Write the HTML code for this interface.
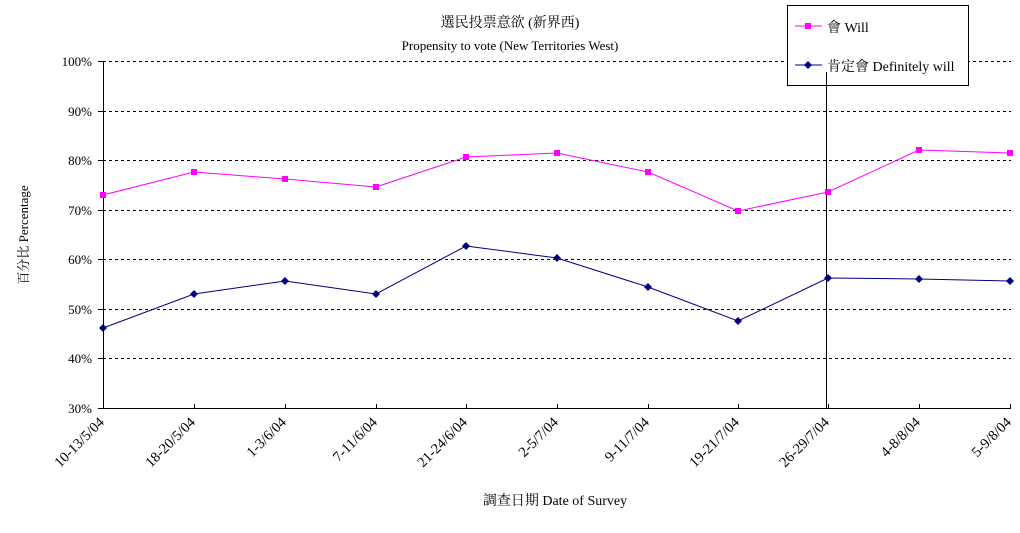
<!DOCTYPE html>
<html><head><meta charset="utf-8"><style>body{margin:0;background:#fff}svg{display:block}</style></head><body>
<svg width="1020" height="533" xmlns="http://www.w3.org/2000/svg" font-family="Liberation Serif, Noto Serif CJK SC, serif" font-size="13">
<g stroke="#000" stroke-dasharray="3,3" stroke-width="1">
<line x1="103" y1="61.5" x2="1011" y2="61.5"/><line x1="103" y1="111.5" x2="1011" y2="111.5"/><line x1="103" y1="160.5" x2="1011" y2="160.5"/><line x1="103" y1="210.5" x2="1011" y2="210.5"/><line x1="103" y1="259.5" x2="1011" y2="259.5"/><line x1="103" y1="309.5" x2="1011" y2="309.5"/><line x1="103" y1="358.5" x2="1011" y2="358.5"/>
</g>
<g stroke="#000" stroke-width="1">
<line x1="103.5" y1="61" x2="103.5" y2="408"/><line x1="103" y1="408.5" x2="1011" y2="408.5"/>
<line x1="98" y1="61.5" x2="103" y2="61.5"/><line x1="98" y1="111.5" x2="103" y2="111.5"/><line x1="98" y1="160.5" x2="103" y2="160.5"/><line x1="98" y1="210.5" x2="103" y2="210.5"/><line x1="98" y1="259.5" x2="103" y2="259.5"/><line x1="98" y1="309.5" x2="103" y2="309.5"/><line x1="98" y1="358.5" x2="103" y2="358.5"/><line x1="98" y1="408.5" x2="103" y2="408.5"/>
<line x1="194.5" y1="404" x2="194.5" y2="408"/><line x1="285.5" y1="404" x2="285.5" y2="408"/><line x1="376.5" y1="404" x2="376.5" y2="408"/><line x1="466.5" y1="404" x2="466.5" y2="408"/><line x1="557.5" y1="404" x2="557.5" y2="408"/><line x1="648.5" y1="404" x2="648.5" y2="408"/><line x1="738.5" y1="404" x2="738.5" y2="408"/><line x1="828.5" y1="404" x2="828.5" y2="408"/><line x1="919.5" y1="404" x2="919.5" y2="408"/><line x1="1010.5" y1="404" x2="1010.5" y2="408"/>
<line x1="826.5" y1="72" x2="826.5" y2="408"/>
</g>
<g text-anchor="end" font-size="13">
<text x="92" y="66">100%</text><text x="92" y="116">90%</text><text x="92" y="165">80%</text><text x="92" y="215">70%</text><text x="92" y="264">60%</text><text x="92" y="314">50%</text><text x="92" y="363">40%</text><text x="92" y="413">30%</text>
</g>
<g text-anchor="end" font-size="14.5" transform="translate(-3,3)">
<text transform="translate(108,420) rotate(-45)">10-13/5/04</text>
<text transform="translate(199,420) rotate(-45)">18-20/5/04</text>
<text transform="translate(290,420) rotate(-45)">1-3/6/04</text>
<text transform="translate(381,420) rotate(-45)">7-11/6/04</text>
<text transform="translate(471,420) rotate(-45)">21-24/6/04</text>
<text transform="translate(562,420) rotate(-45)">2-5/7/04</text>
<text transform="translate(653,420) rotate(-45)">9-11/7/04</text>
<text transform="translate(743,420) rotate(-45)">19-21/7/04</text>
<text transform="translate(833,420) rotate(-45)">26-29/7/04</text>
<text transform="translate(924,420) rotate(-45)">4-8/8/04</text>
<text transform="translate(1015,420) rotate(-45)">5-9/8/04</text>
</g>
<text x="510" y="27" text-anchor="middle" font-size="14">選民投票意欲 (新界西)</text>
<text x="510" y="50" text-anchor="middle" font-size="13">Propensity to vote (New Territories West)</text>
<text x="555" y="505" text-anchor="middle" font-size="14">調查日期 Date of Survey</text>
<text transform="translate(28,235) rotate(-90)" text-anchor="middle" font-size="13">百分比 Percentage</text>
<polyline fill="none" stroke="#ff00ff" stroke-width="1" points="103,195 194,172 285,179 376,187 466,157 557,153 648,172 738,211 828,192 919,150 1010,153"/>
<g fill="#ff00ff">
<rect x="100" y="192" width="6" height="6"/><rect x="191" y="169" width="6" height="6"/><rect x="282" y="176" width="6" height="6"/><rect x="373" y="184" width="6" height="6"/><rect x="463" y="154" width="6" height="6"/><rect x="554" y="150" width="6" height="6"/><rect x="645" y="169" width="6" height="6"/><rect x="735" y="208" width="6" height="6"/><rect x="825" y="189" width="6" height="6"/><rect x="916" y="147" width="6" height="6"/><rect x="1007" y="150" width="6" height="6"/>
</g>
<polyline fill="none" stroke="#000080" stroke-width="1" points="103,328 194,294 285,281 376,294 466,246 557,258 648,287 738,321 828,278 919,279 1010,281"/>
<g fill="#000080">
<path d="M103 324l4 4-4 4-4-4z"/><path d="M194 290l4 4-4 4-4-4z"/><path d="M285 277l4 4-4 4-4-4z"/><path d="M376 290l4 4-4 4-4-4z"/><path d="M466 242l4 4-4 4-4-4z"/><path d="M557 254l4 4-4 4-4-4z"/><path d="M648 283l4 4-4 4-4-4z"/><path d="M738 317l4 4-4 4-4-4z"/><path d="M828 274l4 4-4 4-4-4z"/><path d="M919 275l4 4-4 4-4-4z"/><path d="M1010 277l4 4-4 4-4-4z"/>
</g>
<rect x="787.5" y="5.5" width="181" height="80" fill="#fff" stroke="#000"/>
<line x1="795" y1="26" x2="822" y2="26" stroke="#ff00ff"/><rect x="805" y="23" width="6" height="6" fill="#ff00ff"/>
<text x="827" y="32" font-size="14">會 Will</text>
<line x1="795" y1="65" x2="822" y2="65" stroke="#000080"/><path d="M808 61l4 4-4 4-4-4z" fill="#000080"/>
<text x="827" y="71" font-size="14">肯定會 Definitely will</text>
<line x1="826.5" y1="72" x2="826.5" y2="86" stroke="#000"/>
</svg>
</body></html>
